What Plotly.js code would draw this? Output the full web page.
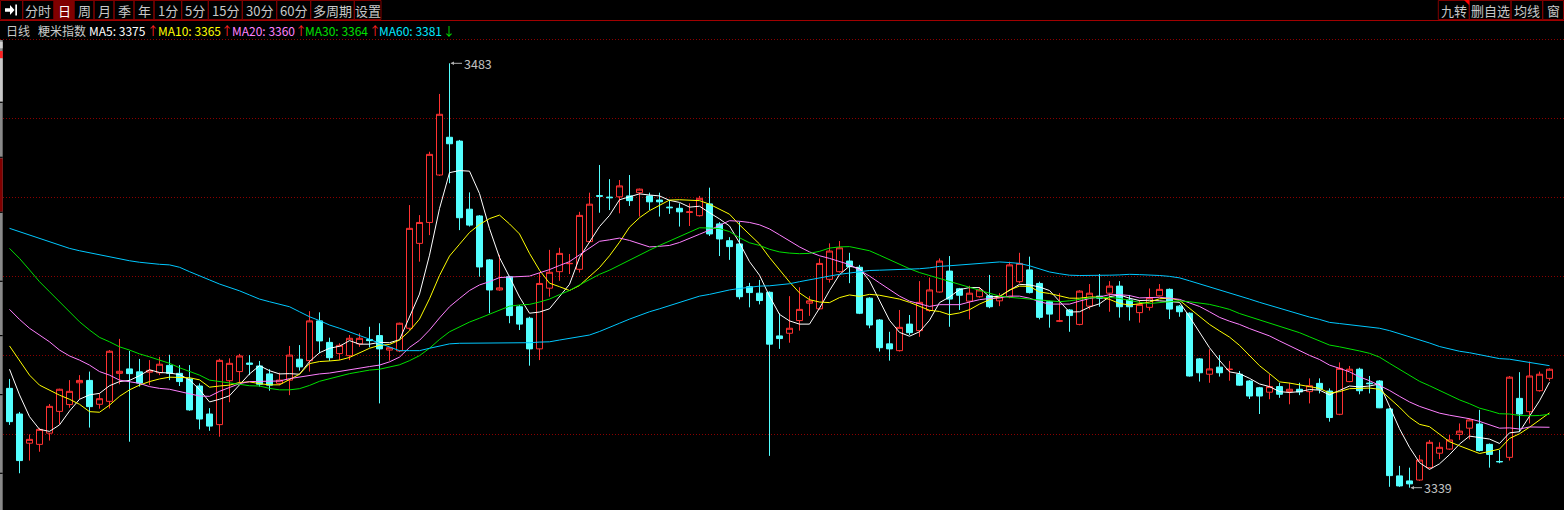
<!DOCTYPE html>
<html><head><meta charset="utf-8">
<script src="https://cdn.plot.ly/plotly-3.0.1.min.js"></script>
<style>html,body{margin:0;padding:0;background:#000;overflow:hidden}#chart{width:1564px;height:510px}</style>
</head><body><div id="chart"></div>
<script>
// ---------- data (daily candles, 粳米指数) ----------
const openP = [
3372.7,3364.0,3354.1,3353.7,3357.5,3364.9,3367.2,3374.6,3375.4,3367.3,
3368.3,3377.8,3379.3,3378.3,3378.2,3378.0,3380.5,3377.8,3375.9,3373.5,
3364.0,3360.4,3375.3,3378.4,3381.3,3380.3,3377.6,3374.4,3375.5,3382.6,
3382.1,3395.6,3388.3,3384.5,3383.8,3387.8,3389.3,3390.6,3385.7,3385.4,
3393.1,3421.9,3429.0,3445.1,3457.9,3456.6,3433.5,3431.2,3416.3,3406.1,
3410.6,3400.4,3396.5,3386.1,3406.7,3412.3,3415.0,3413.1,3422.5,3438.1,
3437.6,3437.7,3438.0,3439.1,3438.0,3436.6,3434.2,3433.8,3432.4,3431.3,
3435.3,3428.5,3422.8,3421.7,3407.2,3405.0,3405.3,3390.5,3391.4,3395.7,
3401.6,3399.7,3409.7,3412.3,3415.9,3413.8,3403.3,3395.9,3387.8,3385.5,
3394.5,3392.3,3399.1,3405.4,3412.5,3406.5,3402.3,3403.8,3404.1,3402.4,
3403.8,3408.9,3412.9,3408.3,3402.1,3395.5,3399.3,3394.4,3400.6,3404.0,
3405.0,3407.4,3402.7,3398.4,3400.2,3404.1,3406.3,3400.6,3398.2,3382.7,
3377.5,3379.9,3379.1,3377.5,3375.2,3372.9,3371.4,3373.3,3371.6,3372.4,
3371.6,3374.4,3371.8,3363.9,3375.0,3379.2,3374.5,3375.2,3365.7,3343.0,
3341.3,3341.6,3345.8,3350.7,3352.1,3357.1,3359.2,3360.6,3353.7,3347.9,
3349.3,3369.3,3364.8,3371.9,3376.1];
const highP = [
3375.9,3364.7,3357.1,3359.3,3367.4,3372.6,3375.5,3377.2,3378.4,3371.0,
3385.7,3389.5,3385.4,3382.7,3382.3,3383.4,3384.1,3380.6,3380.6,3374.4,
3366.0,3382.8,3382.9,3384.4,3384.0,3382.0,3379.2,3378.0,3387.1,3387.4,
3398.9,3398.5,3389.9,3388.0,3390.8,3391.4,3393.6,3394.8,3386.7,3395.0,
3434.9,3431.5,3453.0,3472.6,3483.0,3457.0,3439.2,3431.5,3416.6,3418.0,
3410.9,3401.0,3397.0,3412.0,3419.7,3420.4,3418.3,3432.6,3439.1,3448.5,
3443.7,3443.4,3445.1,3440.5,3439.1,3439.1,3436.6,3435.5,3435.5,3438.0,
3440.8,3429.1,3424.0,3429.3,3408.5,3409.5,3405.6,3398.2,3404.0,3407.0,
3404.0,3416.8,3421.9,3422.7,3418.7,3414.6,3403.6,3396.2,3391.9,3399.3,
3397.6,3409.1,3410.3,3416.8,3417.6,3406.8,3407.5,3407.0,3411.2,3405.0,
3415.7,3418.7,3417.4,3408.9,3402.4,3405.0,3399.6,3406.0,3408.1,3411.5,
3409.1,3409.1,3404.4,3402.7,3406.6,3408.1,3406.6,3401.0,3398.5,3383.0,
3386.0,3384.0,3382.0,3378.6,3375.5,3373.2,3377.5,3374.6,3374.6,3374.6,
3376.1,3376.1,3372.7,3381.5,3380.3,3379.7,3376.9,3375.5,3366.0,3346.4,
3345.8,3350.1,3355.2,3354.4,3356.9,3360.8,3362.5,3365.4,3354.0,3351.8,
3376.9,3378.2,3381.8,3378.4,3379.5];
const lowP = [
3360.3,3343.9,3348.2,3351.2,3355.0,3360.6,3366.1,3369.0,3359.4,3365.8,
3365.9,3374.1,3354.6,3373.3,3373.8,3377.2,3375.5,3373.5,3365.1,3358.8,
3358.3,3356.3,3368.0,3374.6,3377.2,3373.3,3371.9,3373.8,3370.4,3378.7,
3378.4,3384.6,3382.0,3382.3,3382.3,3386.8,3386.6,3367.6,3382.1,3385.0,
3392.5,3415.7,3424.7,3444.8,3442.3,3426.4,3427.6,3410.6,3398.2,3405.8,
3394.8,3392.5,3380.4,3382.3,3403.8,3409.2,3411.5,3412.0,3422.2,3432.3,
3433.2,3432.1,3434.6,3431.0,3433.2,3431.0,3431.9,3427.6,3427.8,3431.0,
3424.4,3417.6,3416.3,3402.9,3400.2,3401.2,3349.8,3386.1,3388.2,3392.3,
3397.3,3399.4,3408.6,3412.0,3408.4,3397.9,3393.1,3385.2,3382.1,3385.2,
3390.8,3390.2,3398.7,3405.2,3393.6,3399.3,3396.1,3403.5,3399.9,3400.6,
3403.3,3408.4,3404.9,3396.1,3393.3,3395.2,3391.9,3394.1,3399.5,3400.4,
3398.7,3396.7,3395.7,3395.0,3399.1,3403.9,3396.2,3397.0,3376.7,3375.0,
3374.6,3376.7,3375.3,3373.6,3369.1,3364.0,3369.0,3369.5,3367.3,3370.4,
3367.6,3371.0,3361.4,3363.6,3374.8,3370.7,3371.0,3366.0,3339.3,3339.3,
3339.0,3341.3,3345.5,3348.7,3351.8,3355.2,3355.4,3351.3,3345.8,3347.3,
3348.2,3358.0,3360.8,3371.6,3375.3];
const closeP = [
3361.4,3348.2,3355.4,3358.8,3366.6,3372.4,3371.7,3375.4,3366.5,3369.2,
3385.3,3378.5,3377.7,3374.5,3378.8,3380.9,3377.8,3375.0,3365.4,3362.3,
3359.9,3382.2,3381.2,3383.7,3380.9,3374.1,3373.8,3375.5,3384.0,3380.0,
3395.6,3388.8,3383.1,3387.3,3389.7,3389.7,3388.9,3386.1,3386.5,3394.8,
3427.0,3429.0,3452.1,3465.7,3455.7,3430.6,3428.1,3413.9,3406.1,3406.8,
3397.4,3394.5,3386.1,3408.3,3412.1,3418.5,3415.1,3431.4,3435.2,3437.9,
3437.4,3441.4,3436.4,3440.3,3436.0,3436.0,3434.0,3432.6,3432.6,3437.2,
3425.1,3423.4,3420.8,3403.8,3405.2,3402.5,3387.7,3389.6,3393.1,3399.5,
3402.4,3415.1,3419.3,3420.4,3414.0,3398.2,3394.2,3386.5,3386.1,3393.4,
3391.6,3401.9,3406.1,3415.9,3403.0,3404.3,3405.0,3406.1,3400.4,3403.8,
3414.6,3415.1,3405.2,3396.8,3397.9,3395.6,3397.4,3405.7,3405.0,3403.3,
3407.4,3400.4,3400.4,3401.2,3403.5,3406.3,3399.6,3398.7,3376.9,3378.0,
3379.3,3378.0,3379.2,3373.8,3370.1,3370.1,3373.3,3370.7,3372.4,3371.5,
3373.6,3372.4,3362.8,3379.5,3379.2,3371.9,3374.3,3366.1,3343.1,3339.6,
3340.3,3348.4,3354.4,3352.7,3355.2,3358.2,3362.0,3351.6,3350.3,3347.8,
3376.5,3364.0,3376.9,3377.5,3379.2];

const ma5 = [
3379.2,3370.5,3363.1,3358.8,3358.1,3360.3,3365.0,3369.0,3370.5,3371.0,
3373.6,3375.0,3375.4,3377.0,3379.0,3378.1,3377.9,3377.4,3375.6,3372.3,
3368.1,3369.0,3370.2,3373.9,3377.6,3380.4,3378.7,3377.6,3377.7,3377.5,
3381.8,3384.8,3386.3,3387.0,3388.9,3387.7,3387.7,3388.3,3388.2,3389.2,
3396.7,3404.7,3417.9,3433.7,3445.9,3446.6,3446.4,3438.8,3426.9,3417.1,
3410.5,3403.7,3398.2,3398.6,3399.7,3403.9,3408.0,3417.1,3422.5,3427.6,
3431.4,3436.7,3437.7,3438.7,3438.3,3438.0,3436.5,3435.8,3434.2,3434.5,
3432.3,3430.2,3427.8,3422.1,3415.7,3411.1,3404.0,3397.8,3395.6,3394.5,
3394.5,3399.9,3405.9,3411.3,3414.2,3413.4,3409.2,3402.7,3395.8,3391.7,
3390.4,3391.9,3395.8,3401.8,3403.7,3406.2,3406.9,3406.9,3403.8,3403.9,
3406.0,3408.0,3407.8,3407.1,3405.9,3402.1,3398.6,3398.7,3400.3,3401.4,
3403.8,3404.4,3403.3,3402.5,3402.6,3402.4,3402.2,3401.9,3397.0,3391.9,
3386.5,3382.2,3378.3,3377.7,3376.1,3374.2,3373.3,3371.6,3371.3,3371.6,
3372.3,3372.1,3370.5,3372.0,3373.5,3373.2,3373.5,3374.2,3366.9,3359.0,
3352.7,3347.5,3345.2,3347.1,3350.2,3353.8,3356.5,3355.9,3355.5,3354.0,
3357.6,3358.0,3363.1,3368.5,3374.8];
const ma10 = [
3387.1,3382.1,3377.2,3373.8,3372.1,3370.4,3369.0,3367.3,3364.8,3364.6,
3367.0,3370.0,3372.2,3373.8,3375.0,3375.9,3376.5,3376.4,3376.3,3375.6,
3373.1,3373.5,3373.8,3374.7,3374.9,3374.3,3373.9,3373.9,3375.8,3377.5,
3381.1,3381.8,3382.0,3382.3,3383.2,3384.8,3386.3,3387.3,3387.6,3389.1,
3392.2,3396.2,3403.1,3411.0,3417.6,3421.6,3425.6,3428.3,3430.3,3431.5,
3428.5,3425.1,3418.5,3412.8,3408.4,3407.2,3405.9,3407.6,3410.5,3413.7,
3417.7,3422.3,3427.4,3430.6,3433.0,3434.7,3436.6,3436.7,3436.5,3436.4,
3435.2,3433.4,3431.8,3428.2,3425.1,3421.7,3417.1,3412.8,3408.8,3405.1,
3402.8,3402.0,3401.8,3403.5,3404.4,3403.9,3404.6,3404.3,3403.6,3403.0,
3401.9,3400.6,3399.2,3398.8,3397.7,3398.3,3399.4,3401.3,3402.8,3403.8,
3406.1,3407.4,3407.3,3405.4,3404.9,3404.1,3403.3,3403.3,3403.7,3403.7,
3402.9,3401.5,3401.0,3401.4,3402.0,3403.1,3403.3,3402.6,3399.8,3397.2,
3394.4,3392.2,3390.1,3387.3,3384.0,3380.4,3377.7,3374.9,3374.5,3373.8,
3373.3,3372.7,3371.1,3371.6,3372.6,3372.7,3372.8,3372.4,3369.4,3366.3,
3362.9,3360.5,3359.7,3357.0,3354.6,3353.2,3352.0,3350.6,3351.3,3352.1,
3355.7,3357.3,3359.5,3362.0,3364.4];
const ma20 = [
3399.5,3396.1,3393.1,3390.8,3388.5,3385.7,3383.7,3382.3,3380.6,3378.4,
3377.2,3375.5,3375.0,3374.4,3373.3,3372.7,3372.4,3371.6,3371.0,3370.1,
3370.0,3371.7,3373.0,3374.3,3375.0,3375.1,3375.2,3375.2,3376.0,3376.6,
3377.1,3377.6,3377.9,3378.5,3379.1,3379.5,3380.1,3380.6,3381.7,3383.3,
3386.6,3389.0,3392.5,3396.6,3400.4,3403.2,3405.9,3407.8,3408.9,3410.3,
3410.4,3410.7,3410.8,3411.9,3413.0,3414.4,3415.7,3418.0,3420.4,3422.6,
3423.1,3423.7,3422.9,3421.7,3420.7,3420.9,3421.2,3422.2,3423.5,3425.0,
3426.4,3427.9,3429.6,3429.4,3429.0,3428.2,3426.8,3424.8,3422.7,3420.7,
3419.0,3417.7,3416.8,3415.8,3414.7,3412.8,3410.8,3408.5,3406.2,3404.0,
3402.3,3401.3,3400.5,3401.1,3401.0,3401.1,3402.0,3402.8,3403.2,3403.4,
3404.0,3404.0,3403.3,3402.1,3401.3,3401.2,3401.3,3402.3,3403.2,3403.7,
3404.5,3404.5,3404.2,3403.4,3403.5,3403.6,3403.3,3402.9,3401.7,3400.5,
3398.7,3396.8,3395.5,3394.4,3393.0,3391.7,3390.5,3388.8,3387.1,3385.5,
3383.9,3382.5,3380.6,3379.5,3378.3,3376.6,3375.3,3373.7,3372.0,3370.0,
3368.1,3366.6,3365.4,3364.3,3363.6,3363.0,3362.4,3361.5,3360.4,3359.2,
3359.3,3358.9,3359.6,3359.5,3359.5];
const ma30 = [
3420.2,3416.8,3412.9,3408.9,3405.5,3402.1,3398.7,3395.3,3392.5,3390.0,
3388.5,3386.8,3385.7,3384.4,3383.4,3382.3,3381.2,3379.7,3378.4,3377.2,
3375.5,3375.0,3374.4,3374.1,3373.6,3373.5,3372.7,3372.2,3372.2,3372.6,
3373.7,3375.1,3376.0,3376.9,3377.7,3378.3,3378.9,3379.2,3379.9,3380.7,
3382.1,3383.8,3386.3,3389.3,3391.9,3393.5,3395.2,3396.5,3397.9,3399.4,
3400.6,3401.0,3401.2,3402.0,3403.0,3404.5,3405.9,3407.8,3409.5,3411.4,
3412.8,3414.5,3416.3,3418.1,3419.6,3421.2,3422.7,3424.2,3425.8,3427.2,
3427.1,3426.9,3425.9,3423.8,3422.1,3421.2,3419.9,3419.0,3418.6,3418.4,
3418.5,3419.2,3420.3,3420.7,3420.8,3420.1,3419.4,3417.9,3416.3,3414.8,
3413.3,3412.0,3411.0,3410.1,3409.0,3408.0,3407.0,3406.1,3405.1,3404.0,
3403.6,3403.3,3402.8,3402.6,3402.3,3402.1,3402.4,3403.0,3403.4,3403.5,
3403.6,3403.2,3402.5,3401.9,3401.5,3401.8,3402.0,3402.4,3402.1,3401.6,
3401.2,3400.4,3399.5,3398.1,3397.0,3395.8,3394.8,3393.6,3392.7,3391.6,
3390.2,3388.8,3387.4,3386.8,3386.2,3385.4,3384.6,3383.3,3381.2,3379.1,
3376.9,3375.1,3373.6,3372.0,3370.4,3368.8,3367.5,3366.0,3365.1,3364.1,
3364.0,3363.5,3363.4,3363.5,3363.9];
const ma60 = [
3427.0,3425.9,3424.7,3423.6,3422.5,3421.3,3420.2,3419.4,3418.7,3418.0,
3417.4,3416.6,3416.0,3415.5,3415.1,3414.8,3414.6,3413.8,3412.3,3410.8,
3409.5,3408.1,3407.0,3405.8,3404.4,3403.0,3402.1,3401.3,3400.4,3398.7,
3397.0,3395.7,3394.2,3393.1,3391.9,3390.8,3389.4,3388.0,3386.8,3385.5,
3385.5,3385.5,3386.3,3387.1,3387.8,3388.0,3388.0,3388.0,3388.0,3388.0,
3388.0,3388.0,3388.2,3388.4,3388.5,3389.1,3389.7,3390.2,3390.8,3392.0,
3393.3,3394.8,3396.2,3397.5,3398.7,3399.7,3400.8,3401.7,3402.8,3404.0,
3404.6,3405.4,3406.1,3406.6,3407.0,3407.4,3407.5,3407.8,3408.2,3408.9,
3409.6,3410.1,3410.8,3411.4,3411.9,3412.3,3412.7,3412.8,3412.9,3413.1,
3413.0,3413.3,3413.6,3414.1,3414.3,3414.6,3414.8,3415.2,3415.4,3415.6,
3415.4,3415.1,3414.3,3413.2,3412.2,3411.6,3411.1,3411.0,3411.0,3410.9,
3411.1,3411.2,3411.4,3411.3,3411.2,3411.0,3410.7,3410.2,3409.2,3408.2,
3407.2,3406.2,3405.2,3404.1,3403.0,3401.9,3400.9,3399.9,3398.9,3397.8,
3396.9,3396.1,3395.1,3394.7,3394.3,3393.7,3393.5,3393.1,3392.3,3391.3,
3390.3,3389.1,3388.1,3386.9,3386.0,3385.3,3384.8,3384.2,3383.6,3382.8,
3382.6,3382.0,3381.4,3380.8,3380.4];

const gridLevels = [3491.1, 3464.3, 3437.5, 3410.7, 3383.9, 3357.1];
const toolbarLabels = ['分时','日','周','月','季','年','1分','5分','15分','30分','60分','多周期','设置'];
const rightLabels = ['九转','删自选','均线','窗'];
const titleLabels = ['日线','粳米指数'];
const maNames = ['MA5','MA10','MA20','MA30','MA60'];
const maShown = [3375, 3365, 3360, 3364, 3381];
const maTrend = ['↑','↑','↑','↑','↓'];

// ---------- drawing ----------
const W = 1564, H = 510;
const FONT = 'Noto Sans CJK SC, sans-serif';
const fx = p => p / W, fy = p => 1 - p / H;
const idx = closeP.map((_, i) => i);
const maList = [ma5, ma10, ma20, ma30, ma60];
const maColors = ['#ffffff', '#ffff00', '#ff80ff', '#00e000', '#00c8ff'];
const maTextColors = ['#ffffff', '#ffff00', '#ff80ff', '#00e000', '#00e8ff'];

const traces = [{
  type: 'candlestick', x: idx, open: openP, high: highP, low: lowP, close: closeP,
  increasing: {line: {color: '#ff3232', width: 1}, fillcolor: '#000000'},
  decreasing: {line: {color: '#54ffff', width: 1}, fillcolor: '#54ffff'},
  whiskerwidth: 0, hoverinfo: 'skip', showlegend: false
}];
maList.forEach((m, k) => traces.push({
  type: 'scatter', mode: 'lines', x: idx, y: m,
  line: {color: maColors[k], width: 1}, hoverinfo: 'skip', showlegend: false
}));

const shapes = [];
const annotations = [];
function rectPx(x0, y0, x1, y1, line, fill) {
  shapes.push({type: 'rect', xref: 'paper', yref: 'paper', x0: fx(x0), x1: fx(x1), y0: fy(y1), y1: fy(y0),
    line: {color: line || 'rgba(0,0,0,0)', width: line ? 1 : 0}, fillcolor: fill || 'rgba(0,0,0,0)', layer: 'above'});
}
function textPx(t, x, y, color, anchor, size) {
  annotations.push({xref: 'paper', yref: 'paper', x: fx(x), y: fy(y), text: t, showarrow: false,
    xanchor: anchor || 'center', yanchor: 'middle', font: {family: FONT, size: size || 12, color: color}});
}

// toolbar (left)
const tbEdges = [0.5, 22.7, 54, 74, 94, 114, 134, 154, 181.7, 208.3, 242.3, 276.7, 310.7, 354.3, 381];
rectPx(tbEdges[0], 0.5, tbEdges[1], 19.5, '#800000');
toolbarLabels.forEach((t, k) => {
  const a = tbEdges[k + 1], b = tbEdges[k + 2];
  const sel = t === '日';
  rectPx(a, 0.5, b, 19.5, '#800000', sel ? '#800000' : null);
  textPx(t, (a + b) / 2, 10.5, sel ? '#ffffff' : '#c8c8c8', 'center', 13);
});
// icon ➜|
const P = (x, y) => fx(x).toFixed(5) + ',' + fy(y).toFixed(5);
shapes.push({type: 'path', xref: 'paper', yref: 'paper', layer: 'above',
  path: 'M' + P(5, 8.3) + 'L' + P(10, 8.3) + 'L' + P(10, 5) + 'L' + P(14.5, 10) + 'L' + P(10, 15) + 'L' + P(10, 11.7) + 'L' + P(5, 11.7) + 'Z',
  fillcolor: '#ffffff', line: {width: 0}});
rectPx(15.3, 4.5, 17, 15.5, null, '#ffffff');

// toolbar (right)
const rtEdges = [1438.3, 1469.3, 1511, 1542.7, 1563.5];
rightLabels.forEach((t, k) => {
  rectPx(rtEdges[k], 0.5, rtEdges[k + 1], 19.5, '#800000');
  textPx(t, (rtEdges[k] + rtEdges[k + 1]) / 2, 10.5, '#c8c8c8', 'center', 13);
});
shapes.push({type: 'path', xref: 'paper', yref: 'paper', layer: 'above',
  path: 'M' + P(1464, 0) + 'L' + P(1469.3, 0) + 'L' + P(1469.3, 5.3) + 'Z', fillcolor: '#ff0000', line: {width: 0}});
// separator line under toolbar
shapes.push({type: 'line', xref: 'paper', yref: 'paper', x0: 0, x1: 1, y0: fy(20.5), y1: fy(20.5),
  line: {color: '#a00000', width: 1}, layer: 'above'});

// left side strip
rectPx(0, 40, 2.7, 510, null, '#8a8a8a');
rectPx(0, 41.7, 2.7, 48.3, null, '#d0d0d0');
rectPx(0, 51, 2.7, 58.3, null, '#ff2020');
rectPx(0, 58.3, 2.7, 101.7, null, '#c8c8c8');
rectPx(0, 158.3, 2.7, 211.7, null, '#800000');
[101.7, 156.7, 211.7, 280.7, 335, 394, 472.7].forEach(y => rectPx(0, y, 2.7, y + 1.2, null, '#000000'));

// legend row
const rowY = 30;
textPx(titleLabels[0], 4, rowY, '#c8c8c8', 'left');
textPx(titleLabels[1], 36, rowY, '#c8c8c8', 'left');
const maX = [87, 156, 230, 303, 377], arrX = [145, 219, 293, 367, 441];
maNames.forEach((n, k) => {
  textPx(n + ': ' + maShown[k], maX[k], rowY, maTextColors[k], 'left');
  textPx(maTrend[k], arrX[k], rowY, maTrend[k] === '↑' ? '#ff2020' : '#00e000', 'left');
});

// extreme labels
const hiVal = Math.max(...highP), hiIdx = highP.indexOf(hiVal);
const loVal = Math.min(...lowP), loIdx = lowP.indexOf(loVal);
[[hiIdx, hiVal], [loIdx, loVal]].forEach(([i, v]) => annotations.push({
  x: i, y: v, xref: 'x', yref: 'y', text: String(Math.round(v)), showarrow: true,
  ax: 28, ay: 0, arrowhead: 2, arrowsize: 0.7, arrowwidth: 1, arrowcolor: '#b0b0b0', standoff: 1,
  font: {family: FONT, size: 12.5, color: '#c0c0c0'}
}));

const layout = {
  width: W, height: H, margin: {l: 0, r: 0, t: 0, b: 0, pad: 0},
  paper_bgcolor: '#000000', plot_bgcolor: '#000000', showlegend: false,
  boxgap: 0.4, boxgroupgap: 0,
  xaxis: {range: [-0.95, 155.45], showgrid: false, zeroline: false, showticklabels: false, ticks: '',
    showline: false, rangeslider: {visible: false}, fixedrange: true},
  yaxis: {range: [3331.43, 3504.48], tickmode: 'array', tickvals: gridLevels, showticklabels: false, ticks: '',
    showgrid: true, gridcolor: '#8a0000', griddash: '1px,2px', gridwidth: 1, zeroline: false, showline: false, fixedrange: true},
  shapes: shapes, annotations: annotations
};
Plotly.newPlot('chart', traces, layout, {staticPlot: true, displayModeBar: false});
</script>
</body></html>
